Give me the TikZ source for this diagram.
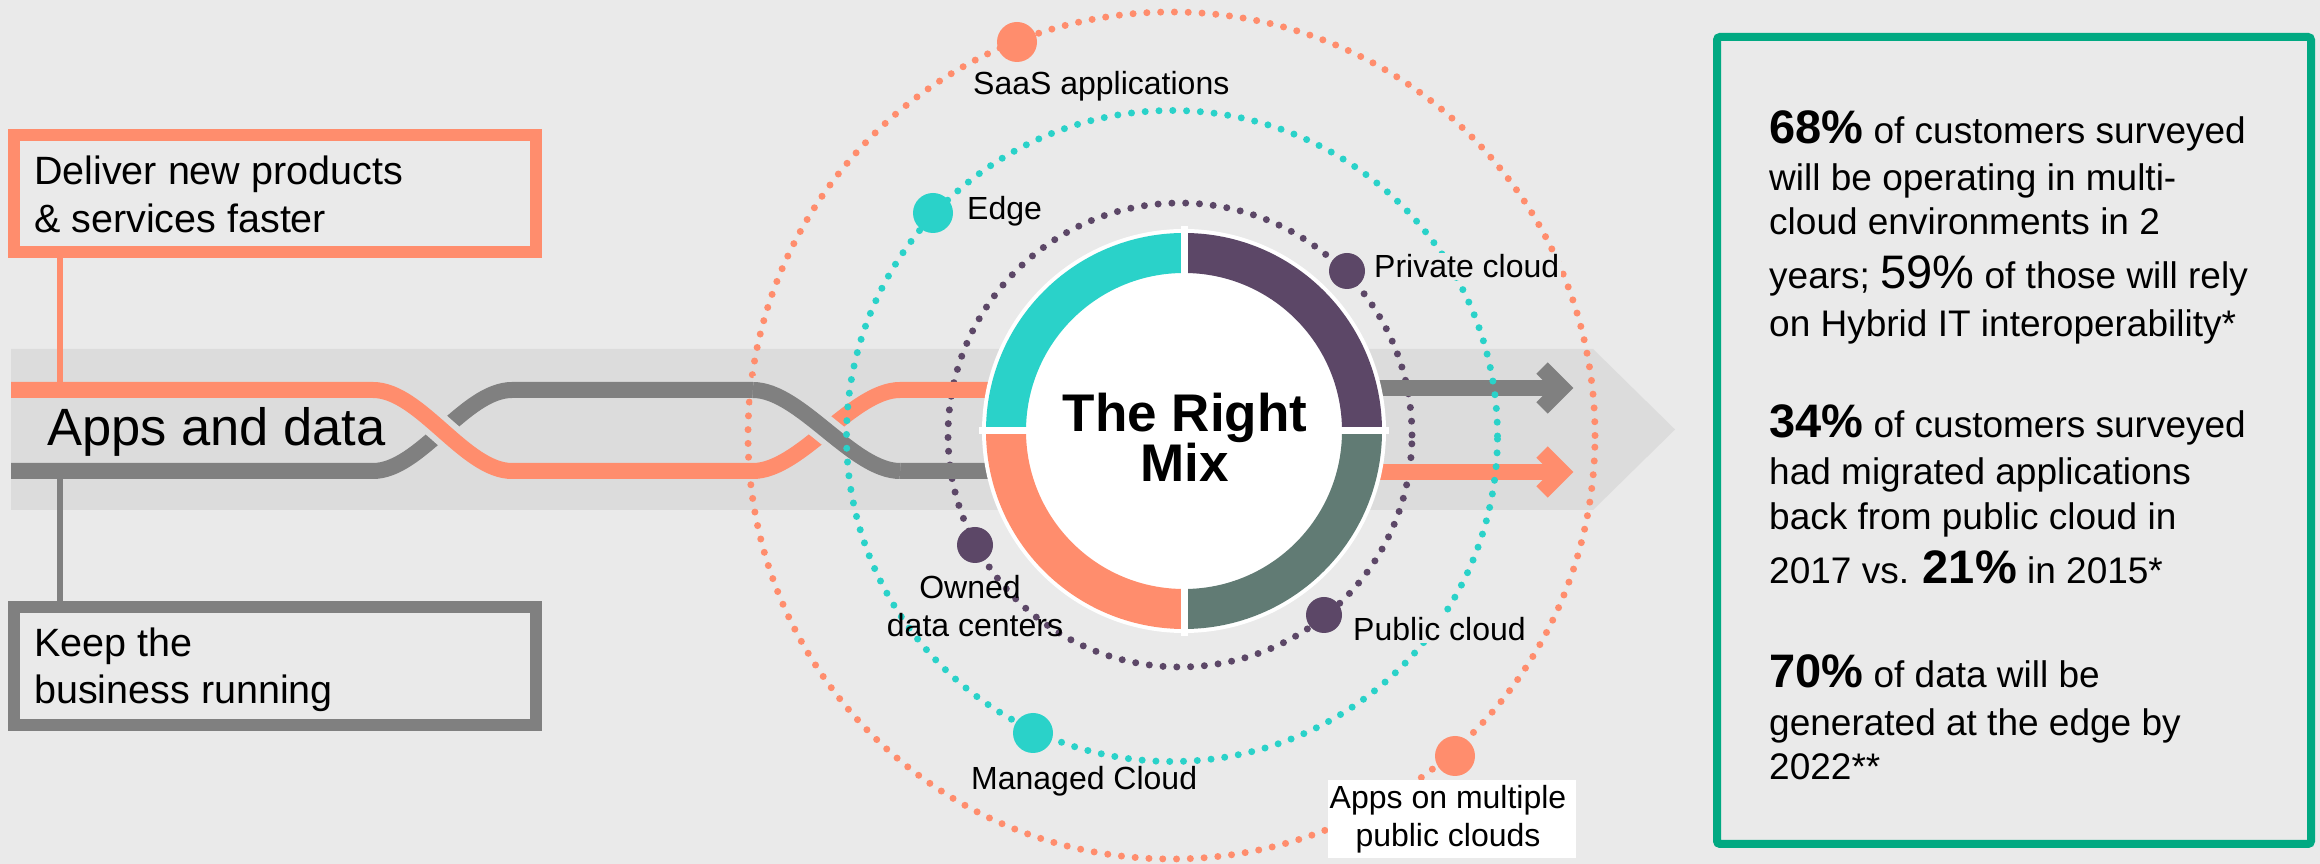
\documentclass[tikz,border=0pt]{standalone}
\usepackage{fontspec}
\setmainfont{Liberation Sans}
\definecolor{bgc}{HTML}{EAEAEA}
\definecolor{bandc}{HTML}{DCDCDC}
\definecolor{hpeorange}{HTML}{FF8D6D}
\definecolor{linegray}{HTML}{808080}
\definecolor{hpeteal}{HTML}{2AD2C9}
\definecolor{hpepurple}{HTML}{5C4767}
\definecolor{hpesage}{HTML}{617B74}
\definecolor{hpegreen}{HTML}{01A982}
\newcommand\hpebigb[1]{{\fontsize{47}{47}\selectfont\bfseries #1}}
\newcommand\hpebigr[1]{{\fontsize{47}{47}\selectfont #1}}
\tikzset{
  dotring/.style={line width=7pt, line cap=round, dash pattern=on 0pt off 13.8pt},
  flowline/.style={line width=16pt},
  casing/.style={line width=28pt, draw=bandc},
  chev/.style={line width=16pt, line join=miter},
  lab/.style={font=\fontsize{32}{38}\selectfont, inner sep=0pt, anchor=base west},
  labc/.style={font=\fontsize{32}{38}\selectfont, inner sep=0pt, anchor=base},
  labfill/.style={lab, fill=bgc, inner sep=2pt},
  ringdot/.style={circle, inner sep=0pt, minimum size=#1},
  boxtext/.style={font=\fontsize{39.5}{48}\selectfont, inner sep=0pt, anchor=base west},
  stat/.style={font=\fontsize{37}{44}\selectfont, inner sep=0pt, anchor=base west},
  mixtext/.style={font=\fontsize{53}{50}\selectfont\bfseries, inner sep=0pt, anchor=base},
}
\begin{document}
\begin{tikzpicture}[x=1pt,y=1pt]
\useasboundingbox (0,0) rectangle (2320,864);
\fill[bgc] (0,0) rectangle (2320,864);
% big grey band arrow
\fill[bandc] (11,515) -- (1593,515) -- (1675,434.5) -- (1593,354) -- (11,354) -- cycle;

% dotted orbits below the flow lines
\draw[dotring, hpeorange] (1171.5,428.5) circle[radius=423.5pt];
\draw[dotring, hpepurple] (1180,429) circle[radius=232pt];

% flow lines
\draw[flowline, linegray] (11,393) -- (373,393) .. controls (420,393) and (465,474) .. (512,474) -- (753,474) .. controls (800,474) and (853,393) .. (900,393) -- (1200,393);
\draw[casing] (373,474) .. controls (420,474) and (465,393) .. (512,393);
\draw[flowline, hpeorange] (11,474) -- (373,474) .. controls (420,474) and (465,393) .. (512,393) -- (753,393) .. controls (800,393) and (853,474) .. (900,474) -- (1200,474);
\draw[casing] (753,474) .. controls (800,474) and (853,393) .. (900,393);
\draw[flowline, linegray] (753,474) .. controls (800,474) and (853,393) .. (900,393);

% output arrows
\coordinate (gout) at (1562,476);
\coordinate (oout) at (1562,392);
\draw[flowline, linegray] (1300,476) -- (gout);
\draw[chev, linegray] (1542,496) -- (gout) -- (1542,456);
\draw[flowline, hpeorange] (1300,392) -- (oout);
\draw[chev, hpeorange] (1542,412) -- (oout) -- (1542,372);

% teal orbit above the lines
\draw[dotring, hpeteal] (1172,428) circle[radius=325.5pt];

% donut
\fill[white] (1184,433) circle[radius=202pt];
\fill[hpeteal] (1184,433) ++(90:198pt) arc[start angle=90,end angle=180,radius=198pt] -- ++(0:40pt) arc[start angle=180,end angle=90,radius=158pt] -- cycle;
\fill[hpepurple] (1184,433) ++(0:198pt) arc[start angle=0,end angle=90,radius=198pt] -- ++(270:40pt) arc[start angle=90,end angle=0,radius=158pt] -- cycle;
\fill[hpesage] (1184,433) ++(270:198pt) arc[start angle=270,end angle=360,radius=198pt] -- ++(180:40pt) arc[start angle=0,end angle=-90,radius=158pt] -- cycle;
\fill[hpeorange] (1184,433) ++(180:198pt) arc[start angle=180,end angle=270,radius=198pt] -- ++(90:40pt) arc[start angle=270,end angle=180,radius=158pt] -- cycle;
\draw[white, line width=7pt] (1184,228) -- (1184,638);
\draw[white, line width=7pt] (979,433) -- (1389,433);
\node[mixtext] (mix1) at (1185,432) {The Right};
\node[mixtext] (mix2) at (1185,382) {Mix};

% orbit markers and labels
\node[ringdot=40pt, fill=hpeorange] (saasdot) at (1017,822) {};
\node[lab] (saas) at (973,769) {SaaS applications};
\node[ringdot=40pt, fill=hpeteal] (edgedot) at (933,651) {};
\node[lab] (edge) at (967,644) {Edge};
\node[ringdot=36pt, fill=hpepurple] (privdot) at (1347,593) {};
\node[labfill] (priv) at (1372,586) {Private cloud};
\node[ringdot=36pt, fill=hpepurple] (owndot) at (975,319) {};
\node[labc] (own1) at (970,265) {Owned};
\node[labc] (own2) at (975,227) {data centers};
\node[ringdot=36pt, fill=hpepurple] (pubdot) at (1324,249) {};
\node[labfill] (pub) at (1351,223) {Public cloud};
\node[ringdot=40pt, fill=hpeteal] (mandot) at (1033,131) {};
\node[lab] (man) at (971,74) {Managed Cloud};
\node[ringdot=40pt, fill=hpeorange] (multidot) at (1455,108) {};
\node[fill=white, minimum width=248pt, minimum height=78pt, inner sep=0pt] (multibox) at (1452,45) {};
\node[labc] (multi1) at (1448,55) {Apps on multiple};
\node[labc] (multi2) at (1448,17) {public clouds};

% left side
\node[draw=hpeorange, line width=12pt, minimum width=522pt, minimum height=117pt, inner sep=0pt] (fastbox) at (275,670.5) {};
\node[boxtext] (fast1) at (34,679) {Deliver new products};
\node[boxtext] (fast2) at (34,631) {\& services faster};
\node[draw=linegray, line width=12pt, minimum width=522pt, minimum height=118pt, inner sep=0pt] (runbox) at (275,198) {};
\node[boxtext] (run1) at (34,207) {Keep the};
\node[boxtext] (run2) at (34,160) {business running};
\coordinate (ojoin) at (60,482);
\coordinate (gjoin) at (60,385);
\draw[hpeorange, line width=6pt] (fastbox.south -| ojoin) -- (ojoin);
\draw[linegray, line width=6pt] (gjoin) -- (runbox.north -| gjoin);
\node[font=\fontsize{52.5}{60}\selectfont, inner sep=0pt, anchor=base west] (apps) at (47,418) {Apps and data};

% statistics box
\node[draw=hpegreen, line width=8pt, rounded corners=3pt, minimum width=594pt, minimum height=807pt, inner sep=0pt] (statsbox) at (2014,423.5) {};
\node[stat] (s1) at (1769,720) {\hpebigb{68\%} of customers surveyed};
\node[stat] (s2) at (1769,673) {will be operating in multi-};
\node[stat] (s3) at (1769,629) {cloud environments in 2};
\node[stat] (s4) at (1769,575) {years; \hpebigr{59\%} of those will rely};
\node[stat] (s5) at (1769,527) {on Hybrid IT interoperability*};
\node[stat] (s6) at (1769,426) {\hpebigb{34\%} of customers surveyed};
\node[stat] (s7) at (1769,379) {had migrated applications};
\node[stat] (s8) at (1769,334) {back from public cloud in};
\node[stat] (s9) at (1769,280) {2017 vs. \hpebigb{21\%} in 2015*};
\node[stat] (s10) at (1769,176) {\hpebigb{70\%} of data will be};
\node[stat] (s11) at (1769,128) {generated at the edge by};
\node[stat] (s12) at (1769,84) {2022**};
\end{tikzpicture}
\end{document}
